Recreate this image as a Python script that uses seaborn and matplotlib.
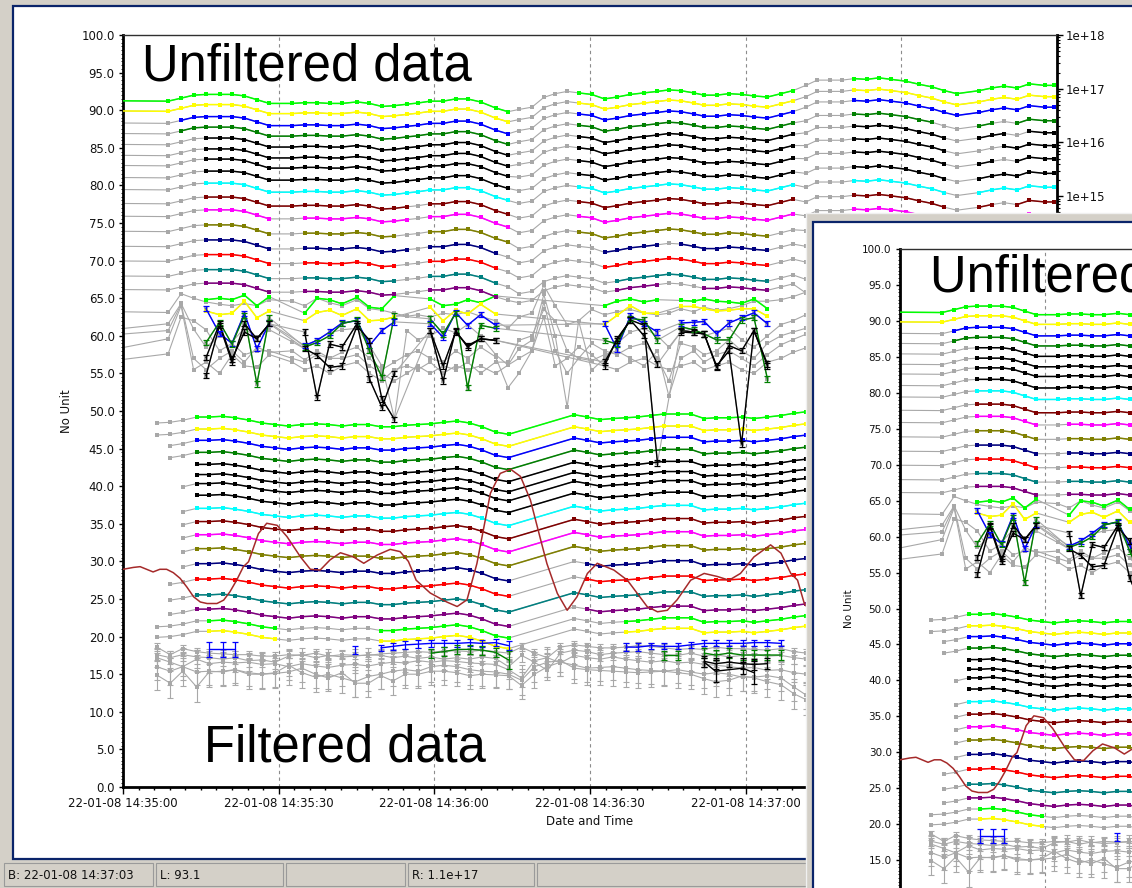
import numpy as np
import pandas as pd
import matplotlib
matplotlib.use("Agg")
import matplotlib.pyplot as plt
import seaborn as sns
from matplotlib.patches import Rectangle
from matplotlib.ticker import MultipleLocator, FuncFormatter, LogLocator, NullFormatter

sns.set_style("white")
plt.rcParams["font.family"] = ["DejaVu Sans"]

# ======================= DATA =======================
# ---- upper (unfiltered) block: sample times (s after 14:35:00) ----
T_UP = [-10, 8.7, 11.2, 13.6, 16.0, 18.6, 21.0, 23.4, 25.8, 28.2,
        32.6, 35.0, 37.4, 39.8, 42.2, 45.1, 47.5, 49.9, 52.3, 54.7,
        56.8, 59.2, 61.7, 64.1, 66.4, 68.9, 71.8, 74.2, 76.3, 78.8,
        81.1, 83.3, 85.6, 87.8, 90.3, 92.8, 95.2, 97.8, 100.4, 103.0,
        105.2, 107.5, 110.0, 112.0, 114.4, 116.8, 119.2, 121.6, 124.2, 126.8,
        129.1, 131.6, 133.8, 136.2, 138.6, 140.9, 143.3, 145.7, 148.1, 150.9,
        153.4, 155.9, 158.3, 160.7, 165.0, 167.4, 169.8, 172.3, 174.7, 177.6,
        179.5]
# top (lime) series of the unfiltered block
TOP_UP = [91.3, 91.2, 91.6, 92.0, 92.1, 92.1, 92.1, 91.9, 91.4, 90.9,
          90.9, 91.0, 91.0, 90.9, 90.9, 91.1, 90.9, 90.5, 90.6, 90.8,
          90.95, 91.2, 91.2, 91.5, 91.5, 91.1, 90.3, 89.8, 90.1, 90.4,
          91.7, 92.2, 92.5, 92.3, 92.1, 91.5, 91.75, 92.1, 92.3, 92.5,
          92.7, 92.6, 92.3, 92.0, 92.0, 92.2, 92.1, 91.9, 91.75, 92.2,
          92.6, 93.3, 94.0, 94.0, 94.0, 94.2, 94.1, 94.3, 94.1, 93.85,
          93.45, 93.1, 92.6, 92.2, 92.6, 92.95, 93.2, 92.95, 93.5, 93.3,
          93.3]
UP_COLORS = ["#00FF00", "#FFFF00", "#0000FF", "#008000", "#000000", "#000000",
             "#000000", "#000000", "#00FFFF", "#800000", "#FF00FF", "#808000",
             "#000080", "#FF0000", "#008080", "#800080"]
# offsets below the top series (left part / middle part / right part)
UP_OFF_A = [0, -1.35, -2.95, -4.35, -5.8, -7.25, -8.6, -10.2, -11.8, -13.65,
            -15.35, -17.35, -19.35, -21.3, -23.3, -25.1]
UP_OFF_B = [0, -1.35, -2.8, -4.3, -5.8, -7.3, -9.0, -10.8, -12.5, -14.45,
            -16.4, -18.5, -20.4, -22.4, -24.5, -25.7]
UP_OFF_C = [0, -1.5, -2.9, -4.7, -6.3, -8.0, -9.75, -11.7, -13.55, -15.5,
            -17.35, -19.3, -21.4, -23.5, -25.8, -27.6]
UP_VALID = [
    [(-10, 74.2), (87.8, 129.1), (140.9, 179.5)],
    [(-10, 74.2), (87.8, 129.1), (140.9, 179.5)],
    [(11.2, 74.2), (87.8, 129.1), (140.9, 179.5)],
    [(11.2, 74.2), (87.8, 129.1), (140.9, 155.9), (165, 167.4), (172.3, 179.5)],
    [(16, 74.2), (87.8, 129.1), (140.9, 158.3), (165, 169.8), (174.7, 179.5)],
    [(16, 74.2), (87.8, 129.1), (140.9, 158.3), (169.8, 179.5)],
    [(16, 74.2), (87.8, 129.1), (140.9, 158.3), (165, 167.4), (172.3, 179.5)],
    [(16, 74.2), (87.8, 129.1), (140.9, 158.3), (165, 179.5)],
    [(16, 74.2), (87.8, 129.1), (140.9, 158.3), (165, 179.5)],
    [(16, 54.7), (59.2, 74.2), (87.8, 129.1), (140.9, 158.3), (165, 167.4), (172.3, 179.5)],
    [(16, 28.2), (35, 54.7), (59.2, 74.2), (87.8, 129.1), (140.9, 179.5)],
    [(16, 28.2), (35, 52.3), (59.2, 74.2), (87.8, 124.2), (140.9, 179.5)],
    [(16, 28.2), (35, 54.7), (59.2, 71.8), (92.8, 103), (107.5, 124.2), (140.9, 179.5)],
    [(16, 28.2), (35, 52.3), (59.2, 71.8), (92.8, 124.2), (140.9, 179.5)],
    [(16, 28.2), (35, 52.3), (59.2, 71.8), (95.2, 124.2), (140.9, 179.5)],
    [(16, 28.2), (35, 52.3), (59.2, 71.8), (95.2, 103), (112, 124.2), (140.9, 179.5)],
]

# ---- noisy unfiltered series (55-65 band) ----
NOISY_T = [16, 18.6, 21, 23.4, 25.8, 28.2,
           35, 37.4, 39.8, 42.2, 45.1, 47.5, 49.9, 52.3,
           59.2, 61.7, 64.1, 66.4, 68.9, 71.8,
           92.8, 95.2, 97.8, 100.4, 103.0,
           107.5, 110, 112, 114.4, 116.8, 119.2, 121.6, 124.2]
NOISY_SEGS = [(16, 28.2), (35, 52.3), (59.2, 71.8), (92.8, 103.0), (107.5, 124.2)]
NOISY_LIME = [64.8, 65.0, 64.8, 65.4, 64.0, 65.2,
              63.0, 65.0, 64.8, 64.25, 65.1, 63.8, 63.6, 65.35,
              64.9, 64.0, 64.2, 64.8, 64.4, 65.3,
              64.0, 64.6, 64.9, 64.5, 64.8,
              64.7, 64.6, 64.9, 64.6, 64.5, 64.3, 64.9, 63.6]
NOISY_YELLOW = [63.3, 62.8, 63.0, 64.6, 62.4, 63.3,
                62.0, 63.1, 63.4, 62.7, 63.6, 62.0, 62.1, 62.5,
                63.8, 62.0, 63.4, 62.9, 64.2, 62.9,
                61.5, 62.7, 64.0, 63.0, 63.0,
                63.9, 63.9, 63.6, 63.3, 63.4, 63.6, 63.6, 62.6]
NOISY_BLUE = [63.6, 60.3, 59.0, 63.0, 58.3, 61.7,
              58.7, 59.4, 60.5, 61.7, 62.0, 58.7, 60.7, 61.85,
              61.6, 59.8, 63.1, 61.4, 62.8, 61.4,
              61.6, 58.25, 62.7, 61.6, 60.5,
              61.7, 61.8, 61.9, 60.25, 61.7, 62.4, 63.05, 61.6]
NOISY_GREEN = [59.1, 61.8, 58.9, 62.7, 53.6, 62.4,
               58.5, 59.1, 60.0, 61.6, 62.1, 58.0, 54.5, 62.7,
               62.25, 60.25, 63.0, 53.1, 61.4, 61.0,
               59.4, 58.9, 62.3, 62.1, 59.4,
               61.2, 60.8, 60.25, 59.45, 59.45, 62.1, 62.4, 54.25]
NOISY_BLACK1 = [57.1, 61.6, 56.9, 60.5, 59.6, 61.6,
                60.5, 51.8, 58.9, 58.5, 61.6, 54.25, 50.5, 55.0,
                60.7, 56.0, 60.5, 58.7, 59.6, 59.4,
                56.5, 59.4, 62.1, 60.0, 56.25,
                60.5, 60.4, 60.25, 55.8, 58.7, 58.0, 60.7, 56.25]
NOISY_BLACK2 = [54.7, 61.4, 56.5, 61.6, 59.6, 61.6,
                58.3, 57.4, 55.8, 56.0, 61.3, 59.4, 51.6, 48.9,
                60.7, 54.0, 60.7, 58.5, 59.6, 59.4,
                56.0, 59.6, 62.1, 61.4, 43.1,
                60.7, 60.5, 60.25, 56.0, 58.0, 45.6, 60.7, 56.0]

# ---- invalid (gray) unfiltered noisy series, on T_UP ----
GRAY_UP_A = [63.3, 63.1, 65.6, 65.0, 64.5, 64.2, 64.0, 64.3, 64.0, 64.8,
             64.6, 64.0, 65.0, 64.4, 64.0, 64.8, 63.6, 63.4, 63.0, 62.6,
             62.8, 62.5, 63.0, 62.8, 63.2, 62.6, 62.0, 61.0, 62.5, 63.0,
             66.7, 64.0, 61.5, 62.0, 63.5, 62.8, 63.2, 63.5, 63.0, 62.8,
             63.0, 63.6, 63.2, 63.8, 63.4, 63.6, 64.0, 64.6, 64.6, 64.8,
             65.2, 65.8, 66.2, 66.6, 66.8, 66.6, 66.4, 66.6, 66.4, 66.2,
             66.0, 65.8, 65.6, 65.5, 65.8, 66.0, 66.2, 66.0, 66.4, 66.2, 66.2]
GRAY_UP_B = [60.25, 61.6, 64.3, 60.9, 58.5, 60.0, 59.2, 61.0, 59.8, 60.8,
             59.2, 58.3, 59.5, 60.4, 60.8, 61.0, 58.7, 56.0, 49.0, 60.7,
             59.5, 60.0, 61.0, 60.4, 61.5, 60.0, 57.5, 56.1, 58.3, 59.4,
             65.5, 60.0, 50.5, 62.0, 55.4, 57.0, 59.0, 60.5, 61.0, 60.0,
             58.5, 60.5, 61.0, 60.0, 60.5, 61.0, 59.5, 58.5, 60.0, 61.5,
             62.0, 62.8, 63.4, 63.6, 63.8, 63.6, 63.8, 64.0, 63.8, 63.6,
             63.4, 63.2, 63.0, 63.2, 63.4, 63.6, 63.4, 63.6, 63.8, 63.6, 63.6]
GRAY_UP_C = [59.7, 60.7, 64.2, 57.0, 55.5, 57.0, 58.0, 56.5, 58.5, 57.8,
             58.0, 56.8, 58.0, 57.0, 57.8, 58.5, 57.0, 55.5, 56.5, 57.5,
             58.0, 57.0, 56.5, 58.0, 57.0, 58.5, 57.2, 53.1, 55.0, 58.0,
             64.5, 58.0, 55.0, 57.0, 56.7, 57.5, 58.0, 57.0, 56.0, 58.0,
             52.0, 57.0, 58.0, 56.5, 57.5, 58.0, 57.0, 56.0, 57.5, 58.8,
             59.5, 60.2, 60.8, 61.2, 61.4, 61.6, 61.4, 61.6, 61.4, 61.2,
             61.0, 60.8, 60.6, 60.8, 61.0, 61.2, 61.0, 61.2, 61.4, 61.2, 61.2]
GRAY_UP_D = [57.1, 59.6, 64.0, 55.5, 56.5, 55.0, 57.5, 56.0, 55.8, 57.5,
             56.5, 55.5, 56.0, 55.0, 56.0, 56.5, 55.0, 54.0, 55.5, 56.0,
             55.5, 56.5, 55.0, 56.0, 55.5, 56.0, 55.0, 56.1, 57.0, 58.0,
             62.5, 56.0, 57.0, 58.5, 57.5, 56.0, 55.5, 56.5, 57.0, 56.0,
             55.5, 56.0, 56.5, 55.5, 56.0, 56.5, 55.5, 55.0, 56.5, 57.0,
             57.8, 58.4, 58.8, 59.2, 59.4, 59.6, 59.4, 59.6, 59.4, 59.2,
             59.0, 58.8, 58.6, 58.8, 59.0, 59.2, 59.0, 59.2, 59.4, 59.2, 59.2]
GRAY_UP_E = [56.0, 57.6, 62.5, 62.0, 60.8, 58.0, 59.0, 57.5, 58.0, 58.0,
             57.0, 56.5, 57.5, 57.0, 57.0, 57.5, 56.0, 55.0, 54.0, 55.0,
             56.0, 55.0, 56.0, 55.5, 56.5, 55.0, 56.5, 56.5, 59.4, 60.0,
             63.5, 62.0, 58.0, 57.0, 59.0, 58.0, 57.5, 58.5, 59.0, 57.0,
             54.0, 59.0, 58.5, 57.5, 58.0, 59.5, 58.0, 57.0, 59.0, 60.0,
             60.5, 61.0, 61.5, 61.8, 62.0, 62.2, 62.0, 62.2, 62.0, 61.8,
             61.6, 61.4, 61.2, 61.4, 61.6, 61.8, 61.6, 61.8, 62.0, 61.8, 61.8]

# ---- lower (filtered) block ----
T_LOW = [6.5, 9.1, 11.5, 14.2, 16.6, 19.2, 21.6, 24.2, 26.8, 29.3,
         31.9, 34.5, 37.1, 39.6, 42.2, 44.8, 47.3, 49.7, 52.0, 54.4,
         56.9, 59.4, 61.8, 64.4, 66.8, 69.2, 71.8, 74.3, 87.0, 89.5,
         92.0, 94.4, 96.9, 99.2, 101.7, 104.3, 106.9, 109.4, 112.0, 114.2,
         116.8, 119.4, 121.6, 124.2, 126.8, 129.3, 131.7]
TOP_LOW = [48.4, 48.5, 48.76, 49.2, 49.2, 49.3, 49.1, 48.8, 48.4, 48.2,
           48.0, 48.2, 48.3, 48.2, 48.0, 48.2, 48.2, 47.9, 47.9, 48.1,
           48.2, 48.3, 48.5, 48.67, 48.4, 47.9, 47.2, 46.9, 49.5, 49.2,
           48.85, 49.0, 49.1, 49.2, 49.4, 49.6, 49.6, 49.6, 49.0, 49.1,
           49.1, 49.2, 49.0, 49.2, 49.4, 49.7, 49.9]
LOW_COLORS = UP_COLORS + ["#00FF00", "#FFFF00"]
LOW_OFF = [0, -1.6, -3.1, -4.7, -6.3, -7.65, -8.85, -10.4, -12.15, -13.9,
           -15.65, -17.5, -19.5, -21.55, -23.65, -25.55, -27.1, -28.5]
LOW_START = [0, 0, 1, 1, 3, 3, 2, 3, 2, 2, 2, 2, 2, 1, 1, 1, 0, 0]
_full = [(14.2, 131.7)]
_gap = [(14.2, 74.3), (89.5, 131.7)]
LOW_VALID = [_full] * 12 + [_gap, _gap, _full, _gap] + [
    [(16.6, 29.3), (49.7, 74.3), (96.9, 131.7)],
    [(16.6, 29.3), (49.7, 74.3), (96.9, 131.7)]]

# blue / green / black error-bar series of the filtered block
B2_T = [16.6, 19.2, 21.6, 44.8, 49.7, 52.0, 54.4, 56.9, 59.4, 61.8, 64.4, 66.8, 69.2, 71.8,
        74.3, 96.9, 99.2, 101.7, 104.3, 106.9, 109.4, 112.0, 114.2, 116.8, 119.4, 121.6,
        124.2, 126.8]
B2_V = [18.3, 18.3, 18.3, 18.2, 18.5, 18.7, 18.9, 19.0, 19.1, 19.1, 19.1, 19.2, 19.1, 19.2,
        18.8, 18.6, 18.6, 18.8, 18.7, 18.7, 18.9, 19.1, 19.1, 19.1, 19.1, 19.2, 19.2, 19.1]
B2_E = [1.0, 1.0, 1.0, 0.5, 0.4, 0.5, 0.5, 0.5, 0.5, 0.5, 0.5, 0.5, 0.5, 0.5,
        0.6, 0.5, 0.5, 0.4, 0.4, 0.4, 0.4, 0.4, 0.4, 0.4, 0.4, 0.4, 0.4, 0.4]
B2_SEGS = [(16.6, 21.6), (44.8, 44.8), (49.7, 74.3), (96.9, 126.8)]
G3_T = [59.4, 61.8, 64.4, 66.8, 69.2, 71.8, 74.3, 104.3, 106.9, 112.0, 114.2, 116.8, 119.4,
        121.6, 124.2, 126.8]
G3_V = [17.8, 18.0, 18.3, 18.3, 18.2, 17.9, 16.9, 17.55, 17.55, 17.8, 17.55, 17.8, 17.55,
        17.55, 17.55, 17.55]
G3_E = [0.6, 0.6, 0.6, 0.6, 0.6, 0.6, 1.2, 0.6, 0.6, 0.7, 0.7, 0.7, 0.7, 0.7, 0.7, 0.7]
G3_SEGS = [(59.4, 74.3), (104.3, 106.9), (112.0, 126.8)]
BL1_T = [112.0, 114.2, 116.8, 119.4, 121.6, 124.2]
BL1_V = [16.7, 16.4, 16.6, 16.4, 16.3, 16.4]
BL1_E = [0.7, 0.7, 0.7, 0.7, 0.7, 0.7]
BL2_T = [112.0, 114.2, 119.4, 121.6]
BL2_V = [16.6, 15.4, 15.8, 15.2]
BL2_E = [0.6, 1.5, 0.8, 1.5]

# gray (invalid) filtered series with error bars
FG_T = [6.5, 9.1, 11.5, 14.2, 16.6, 19.2, 21.6, 24.2, 26.8, 29.3,
        31.9, 34.5, 37.1, 39.6, 42.2, 44.8, 47.3, 49.7, 52.0, 54.4,
        56.9, 59.4, 61.8, 64.4, 66.8, 69.2, 71.8, 74.3, 76.8, 79.3,
        81.8, 84.3, 87.0, 89.5, 92.0, 94.4, 96.9, 99.2, 101.7, 104.3,
        106.9, 109.4, 112.0, 114.2, 116.8, 119.4, 121.6, 124.2, 126.8, 129.3,
        131.7]
GF1 = [18.6, 17.6, 18.4, 18.0, 17.8, 17.7, 17.6, 17.6, 17.4, 17.4,
       17.6, 17.5, 17.8, 17.4, 17.6, 17.5, 17.5, 17.7, 17.8, 17.9,
       18.0, 17.9, 18.1, 18.1, 18.0, 18.2, 18.0, 17.8, 18.6, 17.8,
       17.2, 18.6, 18.9, 18.7, 18.5, 18.5, 18.6, 18.8, 18.7, 18.5,
       18.3, 18.4, 18.3, 18.6, 18.4, 18.4, 18.3, 18.2, 18.4, 18.0, 17.8]
GF2 = [17.6, 17.2, 17.6, 17.3, 17.2, 17.0, 17.2, 16.8, 16.9, 16.6,
       17.4, 17.6, 17.2, 17.5, 17.3, 17.4, 17.6, 17.5, 17.2, 17.4,
       17.1, 17.3, 17.0, 17.2, 17.0, 17.3, 17.1, 16.0, 17.5, 16.6,
       15.5, 17.8, 18.2, 18.0, 17.6, 17.8, 17.9, 18.0, 17.8, 17.6,
       17.5, 17.8, 17.4, 17.6, 17.3, 17.5, 17.6, 17.4, 17.5, 17.2, 17.0]
GF3 = [17.2, 16.6, 16.0, 17.0, 16.4, 16.6, 16.5, 16.6, 16.3, 16.4,
       16.0, 16.4, 16.1, 15.9, 16.2, 16.3, 16.1, 16.4, 16.6, 16.5,
       16.8, 16.6, 16.8, 16.7, 16.5, 16.4, 16.3, 15.6, 14.5, 16.8,
       17.2, 16.5, 17.5, 17.2, 17.0, 17.3, 17.0, 16.8, 16.6, 16.8,
       16.5, 16.6, 16.3, 16.2, 16.0, 15.8, 15.9, 15.5, 15.6, 15.2, 15.0]
GF4 = [16.0, 15.4, 16.0, 15.3, 15.4, 15.3, 15.6, 15.2, 15.0, 15.1,
       15.3, 15.8, 15.0, 14.5, 15.2, 13.8, 13.8, 14.8, 14.1, 15.0,
       15.0, 15.4, 15.4, 15.2, 14.8, 15.0, 14.9, 14.8, 13.5, 15.0,
       16.0, 16.6, 16.2, 15.8, 15.9, 16.0, 15.8, 15.6, 15.5, 15.4,
       15.6, 15.3, 15.0, 15.2, 15.0, 14.6, 14.6, 14.8, 14.5, 13.3, 12.2]
GF5 = [14.9, 13.8, 15.4, 13.3, 15.3, 15.4, 15.6, 15.0, 15.0, 15.2,
       16.2, 15.2, 14.6, 15.0, 14.5, 14.0, 14.7, 15.0, 15.4, 15.6,
       15.4, 16.0, 16.2, 16.0, 15.6, 15.4, 15.3, 15.0, 14.2, 16.0,
       16.6, 16.8, 15.8, 15.6, 15.5, 15.4, 15.3, 15.2, 15.3, 15.4,
       15.2, 15.0, 14.4, 14.0, 14.2, 14.8, 14.5, 14.0, 13.6, 12.4, 11.6]
GF_ERR = [0.5, 0.9, 1.2, 1.8, 2.0]

# smooth brown curve
BROWN_T = [0.0, 2.0, 3.3, 5.8, 7.1, 8.4, 9.7, 11.0, 12.3, 13.6, 14.9, 16.2, 18.1, 19.4,
           20.6, 21.9, 23.2, 24.2, 26.1, 27.7, 29.7, 31.6, 34.2, 36.1, 38.0, 39.9, 41.9,
           44.4, 46.4, 49.0, 51.5, 53.4, 55.0, 56.5, 59.2, 62.4, 64.4, 66.3, 68.2, 70.8,
           72.7, 74.7, 76.6, 78.5, 80.5, 81.7, 83.7, 85.6, 87.5, 89.5, 91.4, 94.6, 97.2,
           99.1, 101.0, 103.0, 104.9, 106.8, 109.4, 112.0, 114.5, 116.8, 119.0, 121.6,
           124.8, 126.8, 128.7, 130.0, 131.3, 134.0, 138.0]
BROWN_V = [28.95, 29.2, 29.3, 28.6, 28.95, 28.95, 28.5, 27.75, 26.6, 25.3, 24.6, 24.4,
           24.4, 24.85, 25.95, 27.5, 29.3, 29.96, 33.7, 35.07, 34.8, 33.3, 30.6, 28.95,
           28.85, 30.2, 31.15, 30.6, 29.75, 30.85, 31.6, 31.3, 30.0, 27.5, 25.8, 24.6,
           24.0, 24.9, 29.7, 39.05, 41.7, 42.25, 41.3, 38.2, 32.85, 29.7, 25.75, 23.5,
           25.3, 28.4, 29.75, 28.85, 27.5, 25.75, 24.0, 23.3, 23.5, 24.9, 27.5, 28.4,
           28.0, 27.5, 28.4, 30.6, 32.2, 31.1, 28.4, 27.5, 24.4, 22.0, 23.0]

X_TICKS = [0, 30, 60, 90, 120, 150, 180]
Y_TICKS = [0, 5, 10, 15, 20, 25, 30, 35, 40, 45, 50, 55, 60, 65, 70, 75, 80, 85, 90, 95, 100]
GRID_T = [30, 60, 90, 120, 150]
STATUS = ["B: 22-01-08 14:37:03", "L: 93.1", "", "R: 1.1e+17", ""]

for arr in [TOP_UP, GRAY_UP_A, GRAY_UP_B, GRAY_UP_C, GRAY_UP_D, GRAY_UP_E]:
    assert len(arr) == len(T_UP), len(arr)
for arr in [NOISY_LIME, NOISY_YELLOW, NOISY_BLUE, NOISY_GREEN, NOISY_BLACK1, NOISY_BLACK2]:
    assert len(arr) == len(NOISY_T), len(arr)
assert len(TOP_LOW) == len(T_LOW)
for arr in [GF1, GF2, GF3, GF4, GF5]:
    assert len(arr) == len(FG_T), len(arr)
assert len(BROWN_T) == len(BROWN_V)
assert len(B2_T) == len(B2_V) == len(B2_E)
assert len(G3_T) == len(G3_V) == len(G3_E)

# ======================= BUILD TABLES =======================
GRAY = "#A8A8A8"


def iv_index(t, ivs):
    for k, (a, b) in enumerate(ivs):
        if a - 1e-6 <= t <= b + 1e-6:
            return k
    return -1


gray_rows, col_rows = [], []
seg_counter = [0]


def add_series(sid, ts, vs, color, valid, gray=True):
    if gray:
        for t, v in zip(ts, vs):
            gray_rows.append((sid, t, v))
    run, cur = [], -1

    def flush(run):
        if run:
            seg_counter[0] += 1
            for tt, vv in run:
                col_rows.append((seg_counter[0], color, tt, vv))

    for t, v in zip(ts, vs):
        k = iv_index(t, valid)
        if k != cur:
            flush(run)
            run = []
            cur = k
        if k >= 0:
            run.append((t, v))
    flush(run)


# upper block
for i, c in enumerate(UP_COLORS):
    vals = []
    for t, top in zip(T_UP, TOP_UP):
        off = UP_OFF_A if t <= 74.2 else (UP_OFF_B if t <= 129.1 else UP_OFF_C)
        vals.append(top + off[i])
    add_series(f"up{i}", T_UP, vals, c, UP_VALID[i])

# gray noisy unfiltered series
for j, g in enumerate([GRAY_UP_A, GRAY_UP_B, GRAY_UP_C, GRAY_UP_D, GRAY_UP_E]):
    add_series(f"gu{j}", T_UP, g, GRAY, [])

# noisy colored (lime & yellow with squares)
for j, (vals, c) in enumerate([(NOISY_LIME, "#00FF00"), (NOISY_YELLOW, "#FFFF00")]):
    add_series(f"nq{j}", NOISY_T, vals, c, NOISY_SEGS)

# gray connectors of the error-bar noisy series
for j, vals in enumerate([NOISY_BLUE, NOISY_GREEN, NOISY_BLACK1, NOISY_BLACK2]):
    add_series(f"ne{j}", NOISY_T, vals, GRAY, [])

# lower block
for i, c in enumerate(LOW_COLORS):
    ts = T_LOW[LOW_START[i]:]
    vals = [top + LOW_OFF[i] for top in TOP_LOW[LOW_START[i]:]]
    add_series(f"lo{i}", ts, vals, c, LOW_VALID[i])

# gray filtered
for j, g in enumerate([GF1, GF2, GF3, GF4, GF5]):
    add_series(f"gf{j}", FG_T, g, GRAY, [])

gray_df = pd.DataFrame(gray_rows, columns=["sid", "t", "v"])
col_df = pd.DataFrame(col_rows, columns=["seg", "col", "t", "v"])
brown_df = pd.DataFrame({"t": BROWN_T, "v": BROWN_V})

# error-bar style series (noisy unfiltered)
ERR_SERIES = [(NOISY_T, v, [0.35] * len(NOISY_T), c, NOISY_SEGS) for v, c in
              [(NOISY_BLUE, "#0000FF"), (NOISY_GREEN, "#008000"),
               (NOISY_BLACK1, "#000000"), (NOISY_BLACK2, "#000000")]]
ERR_SERIES_LOW = [(B2_T, B2_V, B2_E, "#0000FF", B2_SEGS),
                  (G3_T, G3_V, G3_E, "#008000", G3_SEGS),
                  (BL1_T, BL1_V, BL1_E, "#000000", [(112.0, 124.2)]),
                  (BL2_T, BL2_V, BL2_E, "#000000", [(112.0, 121.6)])]

# ======================= FIGURE =======================
W, H = 1132, 888
fig = plt.figure(figsize=(W / 100, H / 100), dpi=100)
fig.patch.set_facecolor("#D4D0C8")


def px_rect(x0, y0, x1, y1, **kw):
    return Rectangle((x0 / W, 1 - y1 / H), (x1 - x0) / W, (y1 - y0) / H,
                     transform=fig.transFigure, **kw)


# main window
fig.add_artist(px_rect(13, 6, 1145, 859, fc="white", ec="#0A246A", lw=1.6, zorder=0.2))
# status bar panels
panels = [(4, 153), (156, 283), (286, 405), (408, 534), (537, 806)]
for (x0, x1), s in zip(panels, STATUS):
    fig.add_artist(px_rect(x0, 863, x1, 886, fc="#D4D0C8", ec="#9A9A9A", lw=0.8, zorder=0.2))
    if s:
        fig.text((x0 + 4) / W, 1 - 875 / H, s, fontsize=8.5, va="center", ha="left",
                 color="#111111", zorder=0.3)

TXT = "#111111"


def style_axes(ax, fs, show_x=True):
    ax.set_xlim(0, 180)
    ax.set_ylim(0, 100)
    ax.set_facecolor("white")
    ax.xaxis.set_major_locator(matplotlib.ticker.FixedLocator(X_TICKS))
    ax.xaxis.set_minor_locator(MultipleLocator(3))
    ax.yaxis.set_major_locator(matplotlib.ticker.FixedLocator(Y_TICKS))
    ax.yaxis.set_minor_locator(MultipleLocator(0.5))
    ax.xaxis.set_major_formatter(FuncFormatter(
        lambda v, p: f"22-01-08 14:{35 + int(v) // 60:02d}:{int(v) % 60:02d}"))
    ax.yaxis.set_major_formatter(FuncFormatter(lambda v, p: f"{v:.1f}"))
    ax.tick_params(axis="x", which="major", bottom=True, length=5, width=1, pad=2,
                   labelsize=fs, colors="black", labelcolor=TXT, labelbottom=show_x)
    ax.tick_params(axis="x", which="minor", bottom=True, length=2.5, width=1, colors="black")
    ax.tick_params(axis="y", which="major", left=True, length=3, width=1, pad=3,
                   labelsize=fs, colors="black", labelcolor=TXT)
    ax.tick_params(axis="y", which="minor", left=True, length=1.5, width=0.6, colors="black")
    for side in ["left", "bottom", "right"]:
        ax.spines[side].set_linewidth(2.0)
        ax.spines[side].set_color("black")
    ax.spines["top"].set_linewidth(1.0)
    ax.spines["top"].set_color("#303030")
    ax.set_xlabel("Date and Time" if show_x else "", fontsize=fs, color=TXT, labelpad=4)
    ax.set_ylabel("No Unit", fontsize=fs, color=TXT, labelpad=6)


def draw_chart(ax, fs, big_texts, show_x=True):
    for v in GRID_T:
        ax.axvline(v, color="#8C8C8C", lw=0.8, ls=(0, (3, 3)), zorder=0.5)
    sns.lineplot(data=gray_df, x="t", y="v", units="sid", estimator=None, color=GRAY,
                 lw=0.8, marker="s", markersize=3.0, markeredgewidth=0, sort=False,
                 ax=ax, legend=False, zorder=2)
    for g, e in zip([GF1, GF2, GF3, GF4, GF5], GF_ERR):
        ax.errorbar(FG_T, g, yerr=e, fmt="none", ecolor=GRAY, elinewidth=0.8,
                    capsize=2, capthick=0.8, zorder=2)
    pal = {c: c for c in col_df["col"].unique()}
    sns.lineplot(data=col_df, x="t", y="v", hue="col", palette=pal, units="seg",
                 estimator=None, lw=1.1, marker="s", markersize=3.4, markeredgewidth=0,
                 sort=False, ax=ax, legend=False, zorder=3)
    for ts, vs, es, c, segs in ERR_SERIES + ERR_SERIES_LOW:
        idx_all = list(range(len(ts)))
        for a, b in segs:
            idx = [k for k in idx_all if a - 1e-6 <= ts[k] <= b + 1e-6]
            if not idx:
                continue
            st = [ts[k] for k in idx]
            sv = [vs[k] for k in idx]
            se = [es[k] for k in idx]
            sns.lineplot(x=st, y=sv, color=c, lw=1.0, sort=False, ax=ax, legend=False,
                         estimator=None, zorder=3.2)
            ax.errorbar(st, sv, yerr=se, fmt="none", ecolor=c, elinewidth=0.9,
                        capsize=2, capthick=0.9, zorder=3.3)
    sns.lineplot(data=brown_df, x="t", y="v", color="#A52A2A", lw=1.1, sort=False,
                 estimator=None, ax=ax, legend=False, zorder=3.5)
    for (tx, ty, s) in big_texts:
        ax.text(tx, ty, s, fontsize=36.5, family=["Liberation Sans", "DejaVu Sans"],
                color="black", va="baseline", ha="left", zorder=4)
    style_axes(ax, fs, show_x)


# main axes
ax = fig.add_axes([123 / W, (H - 787) / H, 934 / W, 752 / H])
ax.set_zorder(1)
draw_chart(ax, 8.5, [(3.6, 94.0, "Unfiltered data"), (15.6, 3.36, "Filtered data")])

rax = ax.twinx()
rax.set_zorder(1.1)
rax.patch.set_visible(False)
rax.set_yscale("log")
rax.set_ylim(1e4, 1e18)
rax.yaxis.set_major_locator(LogLocator(base=10, numticks=20))
rax.yaxis.set_minor_locator(LogLocator(base=10, subs=np.arange(2, 10), numticks=20))
rax.yaxis.set_minor_formatter(NullFormatter())
# labels below 1e+15 lie under the overlapping window
rax.yaxis.set_major_formatter(FuncFormatter(
    lambda v, p: f"1e+{int(round(np.log10(v))):02d}" if v >= 1e15 * 0.99 else ""))
rax.tick_params(axis="y", which="major", right=True, length=4, width=1, pad=2,
                labelsize=8.5, colors="black", labelcolor=TXT)
rax.tick_params(axis="y", which="minor", right=True, length=2, width=0.8, colors="black")
for s in rax.spines.values():
    s.set_visible(False)

# inset window (second screenshot, its lower part lies beyond the canvas)
fig.add_artist(px_rect(806, 213, 1145, 900, fc="#D4D0C8", ec="#F0F0F0", lw=1.0, zorder=5))
fig.add_artist(px_rect(813, 222, 1145, 900, fc="white", ec="#0A246A", lw=1.6, zorder=5.1))
iax = fig.add_axes([900 / W, (H - 967.8) / H, 870 / W, 718.5 / H])
iax.set_zorder(6)
draw_chart(iax, 7.5, [(6.2, 94.06, "Unfiltered data")], show_x=False)

fig.savefig("out.png", dpi=100, facecolor=fig.get_facecolor())
